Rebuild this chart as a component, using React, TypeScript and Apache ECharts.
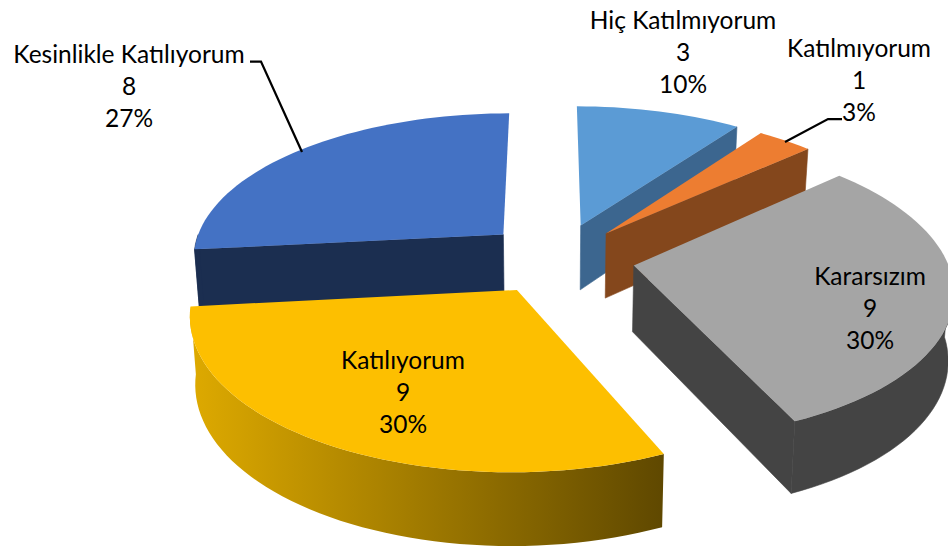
import React, { useEffect, useRef } from "react";
import * as echarts from "echarts";

const categories = ["Hiç Katılmıyorum", "Katılmıyorum", "Kararsızım", "Katılıyorum", "Kesinlikle Katılıyorum"];
const values = [3, 1, 9, 9, 8];
const explode = [0.27, 0.26, 0.25, 0.235, 0.25];
const nudgeX = [0.003, -0.005, 0.0065, 0, 0.018];
const nudgeY = [0.006, 0, -0.02, -0.01, -0.017];
const topColors = ["#5b9bd5", "#ed7d31", "#a5a5a5", "#fdbf00", "#4472c4"];
const wallColors = ["#3c668f", "#84471c", "#444444", "#fdbf00", "#1b2e50"];
// back-to-front painting order
const drawOrder = [0, 4, 1, 2, 3];
const labelCenters = [[683, 51.5], [859, 79.5], [870, 307.5], [403, 391.5], [129, 85.5]];
const leaderLines: Record<number, number[][]> = {
  1: [[842, 119], [828, 119], [785, 142]],
  4: [[250, 61.5], [261, 61.5], [302, 152]],
};

const total = values.reduce((a, b) => a + b, 0);
const CX = 550, CY = 250, RX = 310, RY = 143, P = 0.145, OX = 0.015, OY = 0.075;

function project(x: number, y: number, down: boolean): number[] {
  const s = 1 / (1 - P * y);
  const sx = CX + x * RX * s;
  const sy = CY + y * RY * s;
  if (!down) return [sx, sy];
  return [CX + (sx - CX) * 0.985, sy + 65.5 + 6.5 * y];
}

function renderSlice(_params: any, api: any) {
  const i = api.value(0);
  const before = values.slice(0, i).reduce((a, b) => a + b, 0);
  const a0 = (before / total) * Math.PI * 2;
  const a1 = ((before + values[i]) / total) * Math.PI * 2;
  const mid = (a0 + a1) / 2;
  const ax = OX + nudgeX[i] + explode[i] * Math.sin(mid);
  const ay = OY + nudgeY[i] - explode[i] * Math.cos(mid);
  const steps = Math.max(6, Math.round((a1 - a0) / (Math.PI / 90)));
  const rimPts: number[][] = [];
  for (let k = 0; k <= steps; k++) {
    const t = a0 + ((a1 - a0) * k) / steps;
    rimPts.push([ax + Math.sin(t), ay - Math.cos(t)]);
  }
  const top = rimPts.map((p) => project(p[0], p[1], false));
  const bot = rimPts.map((p) => project(p[0], p[1], true));
  const apexT = project(ax, ay, false);
  const apexB = project(ax, ay, true);

  const wallFill =
    i === 3
      ? new echarts.graphic.LinearGradient(0, 0, 1, 0, [
          { offset: 0, color: "#deaa00" },
          { offset: 1, color: "#5f4800" },
        ])
      : wallColors[i];
  const poly = (points: number[][], fill: any, stroke: any) => ({
    type: "polygon",
    shape: { points },
    style: { fill, stroke, lineWidth: stroke ? 0.6 : 0 },
    silent: true,
  });
  const wallStroke = i === 3 ? null : wallColors[i];
  const children: any[] = [];
  const area = (p: number[][]) => {
    let s = 0;
    for (let k = 0; k < p.length; k++) {
      const q = p[(k + 1) % p.length];
      s += p[k][0] * q[1] - q[0] * p[k][1];
    }
    return s;
  };
  // radial faces, only when they clearly face the viewer
  const first = [apexT, top[0], bot[0], apexB];
  const last = [top[steps], apexT, apexB, bot[steps]];
  if (area(first) < -3000) children.push(poly(first, wallFill, wallStroke));
  if (area(last) < -3000) children.push(poly(last, wallFill, wallStroke));
  // outer curved face, only its front part
  let s0 = 0;
  let e0 = steps;
  const hasFront = Math.cos(a0) < 0.01 || Math.cos(a1) < 0.01 || (a0 < Math.PI && a1 > Math.PI);
  if (hasFront) {
    while (s0 < steps && Math.cos(a0 + ((a1 - a0) * s0) / steps) > 0) s0++;
    while (e0 > 0 && Math.cos(a0 + ((a1 - a0) * e0) / steps) > 0) e0--;
    if (e0 > s0) {
      children.push(poly([...top.slice(s0, e0 + 1), ...bot.slice(s0, e0 + 1).reverse()], wallFill, wallStroke));
    }
  }
  children.push(poly([apexT, ...top], topColors[i], null));
  return { type: "group", children };
}

export default function App() {
  const ref = useRef<HTMLDivElement>(null);
  useEffect(() => {
    const chart = echarts.init(ref.current!, undefined, { renderer: "svg" });
    const labels = categories.map((name, i) => ({
      type: "text",
      x: labelCenters[i][0],
      y: labelCenters[i][1],
      z: 10,
      style: {
        text: `${name}\n${values[i]}\n${Math.round((values[i] / total) * 100)}%`,
        font: "24.5px Lato",
        fill: "#000000",
        align: "center",
        verticalAlign: "middle",
        lineHeight: 32,
      },
    }));
    const lines = Object.values(leaderLines).map((points) => ({
      type: "polyline",
      z: 9,
      shape: { points },
      style: { stroke: "#000000", lineWidth: 2.25, fill: "none" },
    }));
    chart.setOption({
      animation: false,
      backgroundColor: "#ffffff",
      series: [
        {
          type: "custom",
          coordinateSystem: "none",
          silent: true,
          clip: false,
          renderItem: renderSlice,
          data: drawOrder.map((i) => [i, values[i]]),
        },
      ],
      graphic: [...lines, ...labels],
    });
    return () => chart.dispose();
  }, []);
  return <div ref={ref} style={{ position: "absolute", left: 0, top: 0, width: 948, height: 553 }} />;
}
